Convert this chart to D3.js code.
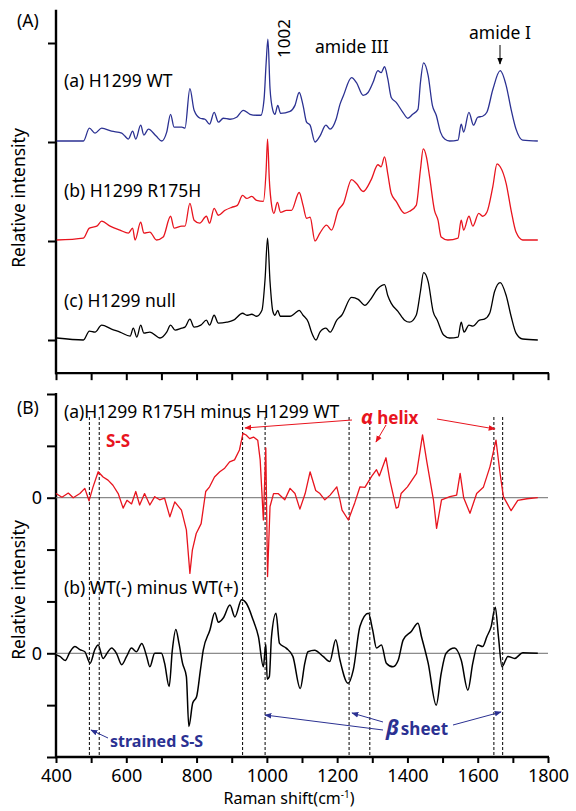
<!DOCTYPE html>
<html>
<head>
<meta charset="utf-8">
<script src="https://cdn.jsdelivr.net/npm/d3@7"></script>
<style>
  body { margin: 0; background: #fff; }
  svg { display: block; font-family: "Noto Sans", "Open Sans", sans-serif; }
</style>
</head>
<body>
<svg id="chart" width="576" height="811"></svg>
<script>
// ---- data: [Raman shift (cm-1), relative intensity] ----
const specWT = [[402,0.01],[478,0.01],[495,0.14],[511,0.09],[530,0.14],[558,0.11],[587,0.09],[596,0.06],[606,0.03],[618,0.11],[627,0.03],[641,0.17],[650,0.07],[663,0.13],[685,0.06],[701,0.01],[715,0.10],[726,0.28],[736,0.15],[758,0.15],[767,0.14],[781,0.54],[793,0.32],[810,0.24],[824,0.23],[837,0.18],[850,0.30],[862,0.20],[876,0.24],[895,0.23],[914,0.25],[933,0.32],[952,0.28],[971,0.27],[983,0.27],[992,0.43],[998,0.80],[1003,1.04],[1009,0.54],[1017,0.32],[1023,0.28],[1031,0.37],[1039,0.29],[1066,0.31],[1080,0.37],[1092,0.50],[1103,0.37],[1113,0.20],[1123,0.17],[1137,0.00],[1151,0.06],[1168,0.17],[1180,0.13],[1197,0.23],[1208,0.38],[1218,0.47],[1241,0.65],[1255,0.60],[1274,0.47],[1288,0.50],[1302,0.60],[1316,0.72],[1325,0.70],[1335,0.76],[1344,0.64],[1354,0.45],[1368,0.40],[1387,0.30],[1401,0.24],[1415,0.28],[1430,0.33],[1437,0.60],[1446,0.80],[1459,0.67],[1471,0.37],[1482,0.27],[1494,0.10],[1506,0.03],[1520,0.01],[1544,0.02],[1553,0.18],[1560,0.10],[1575,0.30],[1588,0.17],[1600,0.25],[1614,0.26],[1626,0.30],[1643,0.53],[1664,0.72],[1681,0.57],[1695,0.33],[1709,0.13],[1728,0.02],[1771,0.01]];

const specR175H = [[402,0.01],[478,0.03],[495,0.13],[516,0.15],[530,0.20],[554,0.15],[582,0.11],[606,0.08],[618,0.13],[625,0.01],[641,0.19],[650,0.08],[667,0.09],[686,0.01],[705,0.04],[726,0.25],[736,0.13],[758,0.15],[767,0.15],[781,0.38],[793,0.21],[809,0.18],[828,0.25],[837,0.18],[850,0.33],[862,0.26],[881,0.31],[900,0.34],[916,0.36],[931,0.46],[943,0.43],[957,0.45],[971,0.41],[990,0.40],[998,0.72],[1002,1.03],[1007,0.62],[1014,0.35],[1020,0.28],[1030,0.39],[1039,0.29],[1056,0.31],[1070,0.31],[1092,0.49],[1103,0.36],[1113,0.23],[1123,0.24],[1137,0.00],[1151,0.08],[1170,0.16],[1184,0.11],[1203,0.31],[1218,0.38],[1241,0.62],[1255,0.58],[1274,0.50],[1297,0.62],[1316,0.77],[1325,0.75],[1335,0.85],[1344,0.68],[1354,0.48],[1368,0.40],[1392,0.28],[1406,0.30],[1425,0.36],[1437,0.72],[1445,0.93],[1454,0.85],[1463,0.65],[1477,0.31],[1487,0.21],[1496,0.04],[1515,0.01],[1544,0.03],[1553,0.21],[1560,0.11],[1575,0.25],[1586,0.15],[1603,0.28],[1614,0.25],[1626,0.29],[1643,0.55],[1655,0.78],[1664,0.75],[1681,0.58],[1695,0.31],[1709,0.09],[1728,0.01],[1771,0.01]];

const specNull = [[402,0.02],[478,0.00],[495,0.09],[511,0.08],[530,0.15],[558,0.11],[582,0.08],[611,0.04],[620,0.12],[630,0.03],[641,0.15],[650,0.07],[667,0.08],[696,0.02],[715,0.08],[726,0.15],[739,0.10],[758,0.12],[767,0.13],[781,0.21],[793,0.13],[812,0.15],[828,0.20],[837,0.15],[850,0.25],[862,0.17],[886,0.18],[905,0.20],[931,0.27],[943,0.25],[957,0.26],[971,0.24],[986,0.30],[995,0.62],[1002,1.03],[1009,0.59],[1017,0.29],[1023,0.25],[1031,0.30],[1038,0.24],[1066,0.24],[1080,0.27],[1092,0.30],[1103,0.25],[1118,0.18],[1127,0.08],[1140,0.00],[1151,0.08],[1168,0.12],[1180,0.08],[1199,0.20],[1213,0.25],[1241,0.43],[1260,0.41],[1279,0.35],[1293,0.40],[1316,0.52],[1335,0.56],[1344,0.45],[1354,0.37],[1373,0.29],[1392,0.20],[1406,0.18],[1425,0.25],[1437,0.49],[1446,0.68],[1459,0.59],[1473,0.29],[1485,0.20],[1503,0.05],[1520,0.02],[1544,0.03],[1553,0.18],[1561,0.08],[1575,0.15],[1586,0.14],[1605,0.20],[1619,0.21],[1634,0.27],[1648,0.49],[1664,0.58],[1681,0.45],[1695,0.24],[1709,0.07],[1728,0.01],[1771,0.00]];

const diffR175H = [[400,0.08],[417,0.01],[435,0.09],[449,0.00],[468,0.08],[482,0.18],[494,-0.06],[505,0.20],[520,0.50],[534,0.40],[548,0.34],[562,0.24],[577,0.08],[591,-0.20],[602,-0.05],[615,-0.12],[627,0.12],[638,-0.14],[652,0.08],[667,-0.14],[681,0.02],[695,-0.04],[709,-0.01],[724,-0.37],[738,-0.08],[757,-0.24],[771,-0.62],[781,-1.46],[788,-1.01],[799,-0.69],[813,-0.50],[826,0.12],[837,0.21],[851,0.40],[866,0.50],[880,0.57],[894,0.69],[908,0.73],[922,0.92],[932,1.24],[941,1.21],[951,1.14],[962,1.17],[974,1.11],[981,0.73],[990,-0.43],[997,0.96],[1002,-1.52],[1009,-0.17],[1019,0.08],[1032,0.08],[1051,-0.04],[1066,0.18],[1080,0.08],[1094,-0.22],[1109,0.08],[1123,0.50],[1139,0.14],[1151,0.08],[1165,-0.04],[1180,0.05],[1199,0.21],[1208,-0.04],[1214,-0.24],[1232,-0.43],[1250,-0.10],[1265,0.21],[1279,0.20],[1298,0.41],[1312,0.54],[1320,0.42],[1339,0.77],[1350,0.34],[1368,-0.20],[1374,-0.18],[1382,0.08],[1400,0.21],[1426,0.47],[1443,1.21],[1455,0.70],[1474,-0.04],[1483,-0.59],[1497,-0.04],[1521,0.02],[1540,0.05],[1550,0.47],[1560,0.00],[1578,-0.30],[1597,0.08],[1616,0.20],[1635,0.60],[1652,1.11],[1663,0.50],[1673,0.02],[1695,-0.25],[1714,-0.05],[1740,-0.02],[1771,0.00]];

const diffWT = [[400,-0.03],[411,-0.06],[426,-0.14],[440,0.03],[454,0.13],[468,0.07],[482,0.03],[497,-0.19],[511,0.08],[520,0.16],[534,-0.10],[548,0.03],[558,0.10],[572,0.00],[587,-0.22],[601,-0.06],[615,0.10],[629,0.03],[644,0.19],[658,-0.06],[667,-0.26],[681,0.00],[700,0.00],[709,-0.19],[722,-0.64],[731,0.06],[741,0.46],[750,0.19],[760,-0.19],[771,-0.45],[778,-1.41],[789,-0.96],[800,-0.84],[811,-0.32],[819,0.06],[838,0.45],[852,0.78],[862,0.60],[876,0.68],[895,0.93],[909,0.70],[928,1.03],[942,0.96],[961,0.64],[976,0.32],[990,-0.26],[997,0.18],[1001,-0.50],[1007,-0.45],[1013,0.30],[1026,0.77],[1036,0.19],[1055,0.10],[1074,-0.06],[1095,-0.68],[1108,-0.19],[1117,0.03],[1136,0.06],[1160,-0.06],[1179,-0.16],[1196,0.26],[1208,-0.13],[1231,-0.58],[1246,-0.32],[1265,0.52],[1289,0.77],[1301,0.45],[1312,0.10],[1326,0.16],[1340,-0.19],[1359,-0.26],[1374,-0.13],[1388,0.26],[1411,0.42],[1430,0.58],[1440,0.32],[1459,-0.19],[1482,-1.00],[1496,-0.39],[1510,0.00],[1534,0.10],[1553,-0.13],[1572,-0.71],[1586,-0.19],[1600,0.16],[1614,0.13],[1626,0.32],[1638,0.51],[1650,0.89],[1659,0.32],[1669,-0.26],[1686,-0.06],[1705,-0.10],[1728,0.01],[1771,0.00]];

// vertical offsets of each trace (in axis units)
const offsetsA = [2, 1, 0];
const offsetsB = [0, -3];
const labelsA = ["(a) H1299 WT", "(b) H1299 R175H", "(c) H1299 null"];
const labelsB = ["(a)H1299 R175H minus H1299 WT", "(b) WT(-) minus WT(+)"];
const dashShifts = [495, 523, 931, 995, 1234, 1293, 1646, 1671];
const xTickValues = d3.range(400, 1801, 100);
const yTicksA = [0, 1, 2, 3];
const yTicksB = d3.range(-5, 3);

const blue = "#2b3192", red = "#e8141e";

const svg = d3.select("#chart");
const x = d3.scaleLinear().domain([400, 1800]).range([56, 548]);
const yA = d3.scaleLinear().domain([0, 3]).range([340, 43]);
const yB = d3.scaleLinear().domain([-5, 2]).range([757, 394]);

// arrow heads
const defs = svg.append("defs");
[["red", red], ["blue", blue], ["black", "#000"]].forEach(([id, c]) => {
    defs.append("marker")
        .attr("id", "ah-" + id)
        .attr("viewBox", "0 0 10 10")
        .attr("refX", 9).attr("refY", 5)
        .attr("markerWidth", 7).attr("markerHeight", 7)
        .attr("markerUnits", "userSpaceOnUse")
        .attr("orient", "auto")
        .append("path").attr("d", "M0,1 L10,5 L0,9 z").attr("fill", c);
});

function styleAxis(g) {
    g.select(".domain").remove();
    g.selectAll(".tick line").attr("stroke", "#000").attr("stroke-width", 2);
    g.selectAll(".tick text").attr("fill", "#000")
        .style("font-family", "'Noto Sans', sans-serif").style("font-size", "18px");
}

// ---------- panel A ----------
const line = (ys, off, curve) => d3.line().curve(curve).x(d => x(d[0])).y(d => ys(d[1] + off));

svg.append("g").attr("transform", "translate(56,0)")
    .call(d3.axisLeft(yA).tickValues(yTicksA).tickSize(8).tickFormat(""))
    .call(styleAxis);
svg.append("g").attr("transform", `translate(0,${yA(-0.335)})`)
    .call(d3.axisBottom(x).tickValues(xTickValues).tickSize(7).tickFormat(""))
    .call(styleAxis);
svg.append("line").attr("x1", 56).attr("x2", 56).attr("y1", yA(3.335)).attr("y2", yA(-0.335) + 1)
    .attr("stroke", "#000").attr("stroke-width", 2.4);
svg.append("line").attr("x1", 55).attr("x2", x(1800) + 1).attr("y1", yA(-0.335)).attr("y2", yA(-0.335))
    .attr("stroke", "#000").attr("stroke-width", 2.4);

[specWT, specR175H, specNull].forEach((s, i) => {
    svg.append("path").datum(s)
        .attr("d", line(yA, offsetsA[i], d3.curveMonotoneX))
        .attr("fill", "none")
        .attr("stroke", [blue, red, "#000"][i])
        .attr("stroke-width", 1.3)
        .attr("stroke-linejoin", "round");
});

const txt = (x0, y0, s, size) => svg.append("text").attr("x", x0).attr("y", y0).text(s)
    .style("font-size", size + "px").attr("fill", "#000");

txt(17, 27, "(A)", 17.5);
labelsA.forEach((s, i) => txt(64, [87, 197, 307][i], s, 17.5));
svg.append("text").attr("transform", "translate(290,58) rotate(-90)")
    .style("font-size", "17px").text("1002");
txt(315, 53, "amide III", 17.5);
txt(469, 39, "amide I", 17.5);
svg.append("line").attr("x1", 500).attr("x2", 500).attr("y1", 45).attr("y2", 64)
    .attr("stroke", "#000").attr("stroke-width", 1).attr("marker-end", "url(#ah-black)");

svg.append("text").attr("transform", "translate(25,198) rotate(-90)")
    .attr("text-anchor", "middle").style("font-size", "17.5px").text("Relative intensity");

// ---------- panel B ----------
svg.append("g").attr("transform", "translate(56,0)")
    .call(d3.axisLeft(yB).tickValues(yTicksB).tickSize(9).tickPadding(5)
        .tickFormat(d => (d === 0 || d === -3) ? "0" : ""))
    .call(styleAxis);
svg.append("g").attr("transform", `translate(0,${yB(-5)})`)
    .call(d3.axisBottom(x).tickValues(xTickValues).tickSize(6).tickPadding(6)
        .tickFormat(d => d % 200 === 0 ? d : ""))
    .call(styleAxis);
svg.append("line").attr("x1", 56).attr("x2", 56).attr("y1", yB(2) - 1).attr("y2", yB(-5) + 1)
    .attr("stroke", "#000").attr("stroke-width", 2.4);
svg.append("line").attr("x1", 55).attr("x2", x(1800) + 1).attr("y1", yB(-5)).attr("y2", yB(-5))
    .attr("stroke", "#000").attr("stroke-width", 2.4);

// zero lines
offsetsB.forEach(o => {
    svg.append("line").attr("x1", 56).attr("x2", x(1800)).attr("y1", yB(o)).attr("y2", yB(o))
        .attr("stroke", "#6d6d6d").attr("stroke-width", 1);
});

// dashed marker lines
svg.selectAll(".dash").data(dashShifts).enter().append("line")
    .attr("class", "dash")
    .attr("x1", d => x(d)).attr("x2", d => x(d))
    .attr("y1", 417).attr("y2", yB(-5))
    .attr("stroke", "#000").attr("stroke-width", 1).attr("stroke-dasharray", "3,2");

[diffR175H, diffWT].forEach((s, i) => {
    svg.append("path").datum(s)
        .attr("d", line(yB, offsetsB[i], [d3.curveLinear, d3.curveMonotoneX][i]))
        .attr("fill", "none")
        .attr("stroke", [red, "#000"][i])
        .attr("stroke-width", [1.3, 1.5][i])
        .attr("stroke-linejoin", "round");
});

txt(17, 414, "(B)", 17.5);
txt(64, 418, labelsB[0], 17.5);
txt(64, 594, labelsB[1], 17.5);

svg.append("text").attr("transform", "translate(25,590) rotate(-90)")
    .attr("text-anchor", "middle").style("font-size", "17.5px").text("Relative intensity");

// red annotations
txt(106, 447, "S-S", 17).attr("fill", red).style("font-weight", "bold");
const ah = svg.append("text").attr("x", 361).attr("y", 424).attr("fill", red).style("font-weight", "bold");
ah.append("tspan").style("font-size", "20px").style("font-style", "italic").text("α");
ah.append("tspan").attr("dx", 4).style("font-size", "17px").text("helix");
[[352, 420, 245, 428], [386, 425, 376, 442], [437, 419, 495, 429]].forEach(a => {
    svg.append("line").attr("x1", a[0]).attr("y1", a[1]).attr("x2", a[2]).attr("y2", a[3])
        .attr("stroke", red).attr("stroke-width", 1).attr("marker-end", "url(#ah-red)");
});

// blue annotations
txt(110, 747, "strained S-S", 16).attr("fill", blue).style("font-weight", "bold");
const bs = svg.append("text").attr("x", 386).attr("y", 735).attr("fill", blue).style("font-weight", "bold");
bs.append("tspan").style("font-size", "21px").style("font-style", "italic").text("β");
bs.append("tspan").attr("dx", 2).style("font-size", "17px").text("sheet");
[[108, 738, 91, 730], [383, 730, 265, 715], [383, 722, 352, 713], [453, 725, 501, 712]].forEach(a => {
    svg.append("line").attr("x1", a[0]).attr("y1", a[1]).attr("x2", a[2]).attr("y2", a[3])
        .attr("stroke", blue).attr("stroke-width", 1).attr("marker-end", "url(#ah-blue)");
});

// x axis title
const xt = svg.append("text").attr("x", 289).attr("y", 804).attr("text-anchor", "middle")
    .style("font-size", "16px");
xt.append("tspan").text("Raman shift(cm");
xt.append("tspan").attr("dy", -6).style("font-size", "10px").text("-1");
xt.append("tspan").attr("dy", 6).text(")");
</script>
</body>
</html>
